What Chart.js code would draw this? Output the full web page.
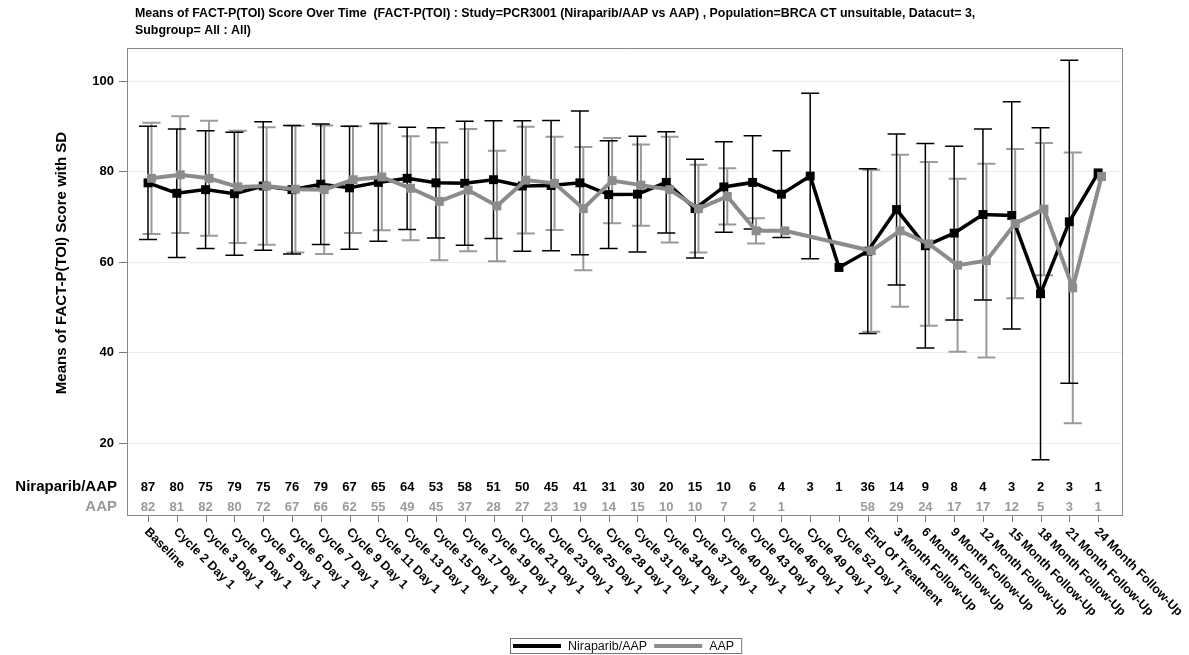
<!DOCTYPE html>
<html>
<head>
<meta charset="utf-8">
<title>Means of FACT-P(TOI) Score Over Time</title>
<script src="https://cdn.jsdelivr.net/npm/chart.js@4.4.1/dist/chart.umd.min.js"></script>
<style>
  html, body { margin: 0; padding: 0; background: #fff; }
  #wrap { width: 1189px; height: 655px; }
</style>
</head>
<body>
<div id="wrap"><canvas id="fig" width="1189" height="655"></canvas></div>
<script>
// visit labels (x axis)
const visits = [
    'Baseline', 'Cycle 2 Day 1', 'Cycle 3 Day 1', 'Cycle 4 Day 1', 'Cycle 5 Day 1', 'Cycle 6 Day 1',
    'Cycle 7 Day 1', 'Cycle 9 Day 1', 'Cycle 11 Day 1', 'Cycle 13 Day 1', 'Cycle 15 Day 1',
    'Cycle 17 Day 1', 'Cycle 19 Day 1', 'Cycle 21 Day 1', 'Cycle 23 Day 1', 'Cycle 25 Day 1',
    'Cycle 28 Day 1', 'Cycle 31 Day 1', 'Cycle 34 Day 1', 'Cycle 37 Day 1', 'Cycle 40 Day 1',
    'Cycle 43 Day 1', 'Cycle 46 Day 1', 'Cycle 49 Day 1', 'Cycle 52 Day 1', 'End Of Treatment',
    '3 Month Follow-Up', '6 Month Follow-Up', '9 Month Follow-Up', '12 Month Follow-Up',
    '15 Month Follow-Up', '18 Month Follow-Up', '21 Month Follow-Up', '24 Month Follow-Up'
];

// Niraparib/AAP arm
const niraMean = [77.5, 75.2, 76.0, 75.1, 76.8, 76.0, 77.2, 76.4, 77.6, 78.5, 77.5, 77.4, 78.2, 76.8, 76.9, 77.5,
    74.9, 75.0, 77.6, 71.8, 76.6, 77.6, 75.0, 79.0, 58.8, 62.4, 71.6, 63.6, 66.4, 70.5, 70.3, 53.0, 68.9, 79.7];
const niraSD = [12.5, 14.2, 13.0, 13.6, 14.2, 14.2, 13.3, 13.6, 13.0, 11.3, 12.2, 13.7, 13.0, 14.4, 14.4, 15.9,
    11.9, 12.8, 11.2, 10.9, 10.0, 10.3, 9.6, 18.3, null, 18.2, 16.7, 22.6, 19.2, 18.9, 25.1, 36.7, 35.7, null];
const niraN = [87, 80, 75, 79, 75, 76, 79, 67, 65, 64, 53, 58, 51, 50, 45, 41, 31, 30, 20, 15, 10, 6, 4, 3, 1,
    36, 14, 9, 8, 4, 3, 2, 3, 1];

// AAP arm
const aapMean = [78.5, 79.3, 78.5, 76.6, 76.8, 76.1, 76.0, 78.2, 78.8, 76.3, 73.4, 75.9, 72.4, 78.1, 77.4, 71.8,
    78.0, 77.0, 76.0, 71.8, 74.5, 66.9, 66.9, null, null, 62.5, 66.9, 64.0, 59.3, 60.3, 68.5, 71.7, 54.3, 78.9];
const aapSD = [12.3, 12.9, 12.7, 12.4, 13.0, 14.0, 14.2, 11.8, 11.8, 11.5, 13.0, 13.5, 12.2, 11.8, 10.3, 13.6,
    9.4, 9.0, 11.7, 9.7, 6.2, 2.8, null, null, null, 17.9, 16.8, 18.1, 19.1, 21.4, 16.5, 14.6, 29.9, null];
const aapN = [82, 81, 82, 80, 72, 67, 66, 62, 55, 49, 45, 37, 28, 27, 23, 19, 14, 15, 10, 10, 7, 2, 1, null, null,
    58, 29, 24, 17, 17, 12, 5, 3, 1];

const yTicks = [20, 40, 60, 80, 100];

const titleLines = [
    'Means of FACT-P(TOI) Score Over Time  (FACT-P(TOI) : Study=PCR3001 (Niraparib/AAP vs AAP) , Population=BRCA CT unsuitable, Datacut= 3,',
    'Subgroup= All : All)'
];
const yTitle = 'Means of FACT-P(TOI) Score with SD';

const BLACK = '#000000';
const GREY = '#8c8c8c';
const GREY_TXT = '#9a9a9a';
const FONT = '"Liberation Sans", Arial, sans-serif';

// error bars, count table, rotated visit labels, titles, legend
const sasDecor = {
    id: 'sasDecor',
    beforeDatasetsDraw(chart) {
        const ctx = chart.ctx;
        const y = chart.scales.y;
        const bars = [
            { idx: 1, mean: aapMean, sd: aapSD, color: '#9a9a9a', width: 2 },
            { idx: 0, mean: niraMean, sd: niraSD, color: BLACK, width: 1.5 }
        ];
        ctx.save();
        bars.forEach(b => {
            const meta = chart.getDatasetMeta(b.idx);
            ctx.strokeStyle = b.color;
            ctx.lineWidth = b.width;
            b.mean.forEach((m, i) => {
                if (m == null || b.sd[i] == null) return;
                const px = meta.data[i].x;
                const top = y.getPixelForValue(m + b.sd[i]);
                const bot = y.getPixelForValue(m - b.sd[i]);
                ctx.beginPath();
                ctx.moveTo(px, top); ctx.lineTo(px, bot);
                ctx.moveTo(px - 9, top); ctx.lineTo(px + 9, top);
                ctx.moveTo(px - 9, bot); ctx.lineTo(px + 9, bot);
                ctx.stroke();
            });
        });
        ctx.restore();
    },
    afterDraw(chart) {
        const ctx = chart.ctx;
        const a = chart.chartArea;
        const x = chart.scales.x;
        ctx.save();

        // frame top/right
        ctx.strokeStyle = '#888';
        ctx.lineWidth = 1;
        ctx.beginPath();
        ctx.moveTo(a.left, a.top + 0.5); ctx.lineTo(a.right + 0.5, a.top + 0.5); ctx.lineTo(a.right + 0.5, a.bottom);
        ctx.stroke();

        // at-risk style counts inside the frame
        ctx.textBaseline = 'middle';
        ctx.textAlign = 'right';
        ctx.font = 'bold 15px ' + FONT;
        ctx.fillStyle = BLACK;
        ctx.fillText(chart.data.datasets[0].label, a.left - 10, a.bottom - 28);
        ctx.fillStyle = GREY_TXT;
        ctx.fillText(chart.data.datasets[1].label, a.left - 10, a.bottom - 8);
        ctx.textAlign = 'center';
        ctx.font = 'bold 13px ' + FONT;
        visits.forEach((v, i) => {
            const px = x.getPixelForValue(i);
            if (niraN[i] != null) { ctx.fillStyle = BLACK; ctx.fillText(String(niraN[i]), px, a.bottom - 28); }
            if (aapN[i] != null) { ctx.fillStyle = GREY_TXT; ctx.fillText(String(aapN[i]), px, a.bottom - 8); }
        });

        // x tick marks + rotated labels
        ctx.strokeStyle = '#777';
        ctx.lineWidth = 1;
        ctx.font = 'bold 12.5px ' + FONT;
        ctx.fillStyle = BLACK;
        ctx.textAlign = 'left';
        visits.forEach((v, i) => {
            const px = Math.round(x.getPixelForValue(i)) + 0.5;
            ctx.beginPath();
            ctx.moveTo(px, a.bottom); ctx.lineTo(px, a.bottom + 7);
            ctx.stroke();
            ctx.save();
            ctx.translate(px - 2, a.bottom + 15);
            ctx.rotate(Math.PI / 4);
            ctx.fillText(v, 0, 0);
            ctx.restore();
        });

        // title
        ctx.font = 'bold 12.4px ' + FONT;
        ctx.fillStyle = BLACK;
        ctx.textAlign = 'left';
        titleLines.forEach((t, k) => ctx.fillText(t, 135, 14 + k * 17));

        // y axis title
        ctx.save();
        ctx.translate(62, 263);
        ctx.rotate(-Math.PI / 2);
        ctx.textAlign = 'center';
        ctx.font = 'bold 15px ' + FONT;
        ctx.fillText(yTitle, 0, 0);
        ctx.restore();

        // legend box
        ctx.font = '12.5px ' + FONT;
        const items = chart.data.datasets.map(d => ({ label: d.label, color: d.borderColor }));
        let lx = 513;
        const ly = 646;
        const parts = items.map(it => 48 + 7 + ctx.measureText(it.label).width);
        const total = parts.reduce((s, w) => s + w, 0) + 7 * (items.length - 1);
        ctx.strokeStyle = '#777';
        ctx.strokeRect(lx - 2.5, ly - 7.5, total + 10, 15);
        items.forEach((it, k) => {
            ctx.fillStyle = it.color;
            ctx.fillRect(lx, ly - 2, 48, 4);
            ctx.fillStyle = '#111';
            ctx.fillText(it.label, lx + 55, ly + 0.5);
            lx += parts[k] + 7;
        });

        ctx.restore();
    }
};

new Chart(document.getElementById('fig'), {
    type: 'line',
    data: {
        datasets: [
            {
                label: 'Niraparib/AAP',
                data: niraMean.map((v, i) => ({ x: i, y: v })),
                borderColor: BLACK,
                backgroundColor: BLACK,
                borderWidth: 3.5,
                pointStyle: 'rect',
                pointRadius: 6.3,
                pointBorderWidth: 0,
                pointBackgroundColor: BLACK,
                tension: 0,
                order: 2
            },
            {
                label: 'AAP',
                data: aapMean.map((v, i) => ({ x: i + 0.12, y: v })),
                borderColor: GREY,
                backgroundColor: GREY,
                borderWidth: 4,
                pointStyle: 'rect',
                pointRadius: 6.3,
                pointBorderWidth: 0,
                pointBackgroundColor: GREY,
                spanGaps: true,
                tension: 0,
                order: 1
            }
        ]
    },
    options: {
        responsive: false,
        animation: false,
        devicePixelRatio: 1,
        layout: { padding: { top: 48, right: 67, left: 0, bottom: 0 } },
        plugins: {
            legend: { display: false },
            title: { display: false },
            tooltip: { enabled: false }
        },
        scales: {
            x: {
                type: 'linear',
                min: -0.73,
                max: 33.83,
                ticks: { display: false },
                grid: { display: false },
                border: { display: true, color: '#888', width: 1 },
                afterFit(scale) { scale.height = 140; }
            },
            y: {
                min: 4.1,
                max: 107.3,
                afterBuildTicks(scale) { scale.ticks = yTicks.map(v => ({ value: v })); },
                ticks: {
                    color: BLACK,
                    padding: 5,
                    font: { family: FONT, size: 13, weight: 'bold' }
                },
                grid: { color: '#ededed', tickColor: '#777', tickLength: 8 },
                border: { display: true, color: '#888', width: 1 },
                afterFit(scale) { scale.width = 127; }
            }
        }
    },
    plugins: [sasDecor]
});
</script>
</body>
</html>
